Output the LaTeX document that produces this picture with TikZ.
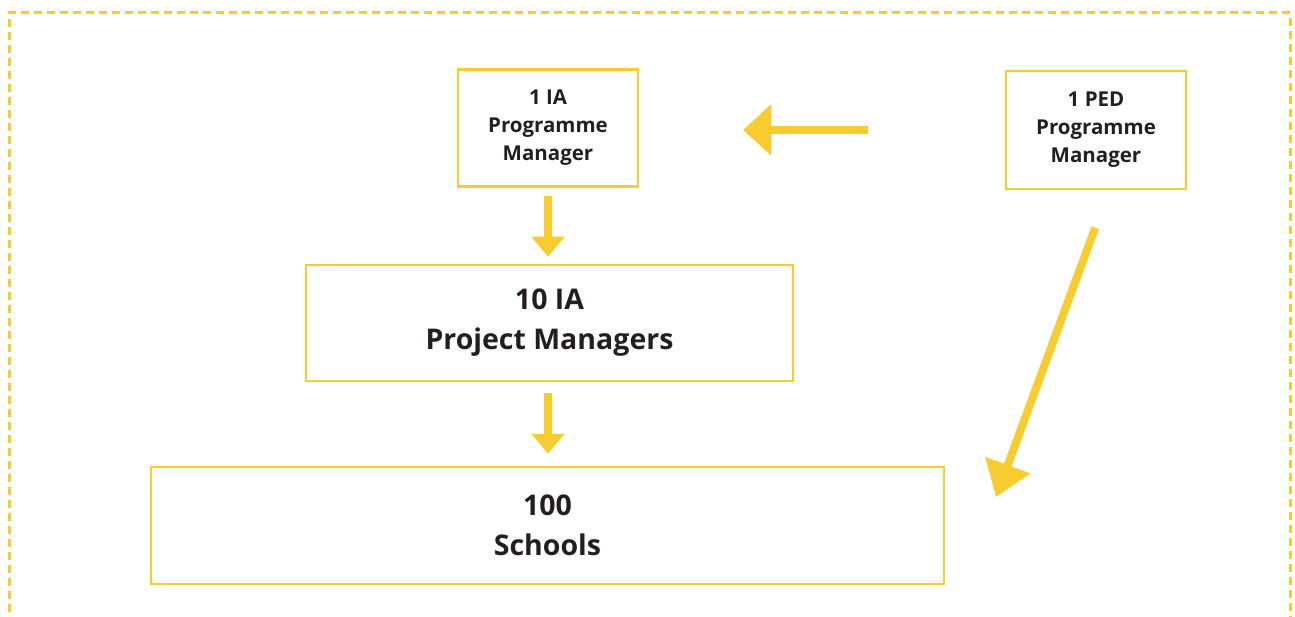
\documentclass[tikz,border=0pt]{standalone}
\usepackage{fontspec}
\setmainfont{Open Sans}
\usetikzlibrary{arrows.meta}
\definecolor{gold}{HTML}{F8CB2F}
\definecolor{ink}{HTML}{231F20}
\tikzset{
  smallbox/.style={draw=gold, line width=2.5pt, align=center, text=ink, font=\bfseries\fontsize{20.5}{28}\selectfont, inner sep=0pt},
  bigbox/.style={draw=gold, line width=2.5pt, align=center, text=ink, font=\bfseries\fontsize{28.5}{40}\selectfont, inner sep=0pt},
  downarrow/.style={draw=gold, line width=8pt, -{Triangle[length=20pt,width=32pt]}},
  bigarrow/.style={draw=gold, line width=8pt, -{Triangle[length=28pt,width=50pt]}}
}
\begin{document}
\begin{tikzpicture}[x=1pt, y=-1pt]
	\useasboundingbox (0,0) rectangle (1295,617);
	% frame, open at the bottom
	\draw[gold, line width=3pt, dash pattern=on 8pt off 5pt] (9,625) -- (9,13) -- (1290,13) -- (1290,625);
	% boxes
	\node[smallbox, minimum width=180pt, minimum height=117pt] (iapm) at (548,128) {1 IA\\Programme\\Manager};
	\node[smallbox, minimum width=180pt, minimum height=118pt] (pedpm) at (1096,130) {1 PED\\Programme\\Manager};
	\node[bigbox, minimum width=487pt, minimum height=116pt] (iaproj) at (549.5,323) {10 IA\\Project Managers};
	\node[bigbox, minimum width=793pt, minimum height=117pt] (schools) at (547.5,525.5) {100\\Schools};
	% arrows
	\coordinate (pedtip) at (996,497);
	\draw[bigarrow, shorten <=137pt, shorten >=104pt] (pedpm.west) -- (iapm.east |- pedpm.west);
	\draw[downarrow, shorten <=8pt, shorten >=7pt] (iapm.south) -- (iapm.south |- iaproj.north);
	\draw[downarrow, shorten <=11pt, shorten >=12pt] (iaproj.south -| iapm.south) -- (iapm.south |- schools.north);
	\draw[bigarrow, -{Triangle[length=34pt,width=46pt]}, shorten <=40pt] ([xshift=13pt]pedpm.south) -- (pedtip);
\end{tikzpicture}
\end{document}
